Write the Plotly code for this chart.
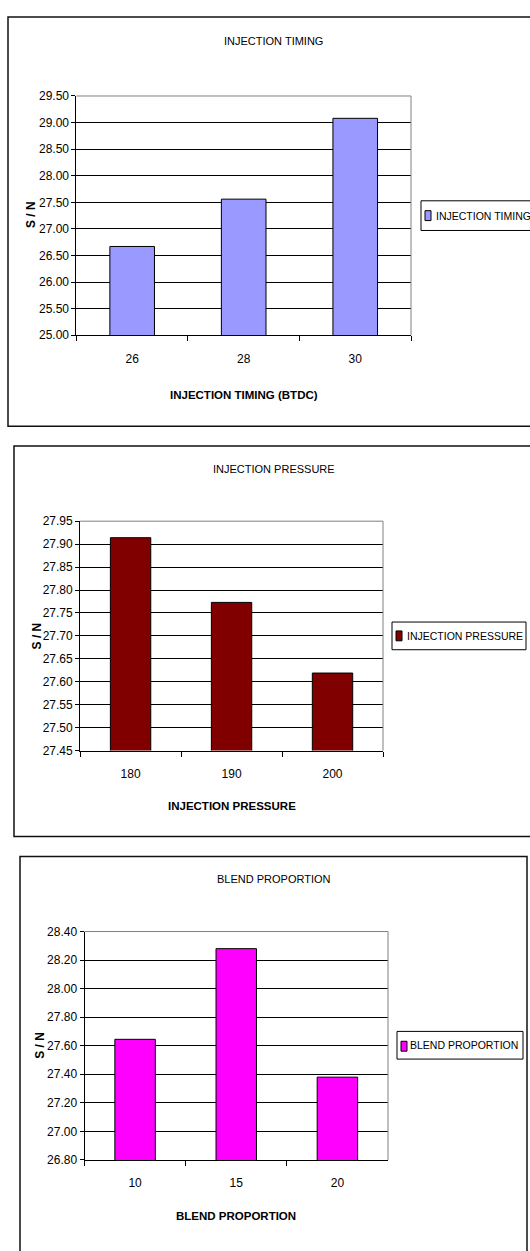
import plotly.graph_objects as go

W, H = 530, 1251
FONT = "Liberation Sans, Arial, Helvetica, sans-serif"

# ---- data -------------------------------------------------------------
timing_cats = ["26", "28", "30"]
timing_sn = [26.67, 27.56, 29.08]
timing_ticks = [25.00, 25.50, 26.00, 26.50, 27.00, 27.50, 28.00, 28.50, 29.00, 29.50]

pressure_cats = ["180", "190", "200"]
pressure_sn = [27.914, 27.773, 27.619]
pressure_ticks = [27.45, 27.50, 27.55, 27.60, 27.65, 27.70, 27.75, 27.80, 27.85, 27.90, 27.95]

blend_cats = ["10", "15", "20"]
blend_sn = [27.645, 28.28, 27.38]
blend_ticks = [26.80, 27.00, 27.20, 27.40, 27.60, 27.80, 28.00, 28.20, 28.40]


def px(x):
    return x / W


def py(y):
    return 1 - y / H


# panel geometry in pixels
panels = [
    dict(name="INJECTION TIMING", xtitle="INJECTION TIMING (BTDC)",
         cats=timing_cats, vals=timing_sn, ticks=timing_ticks, color="#9999FF",
         plot=(76.4, 411, 90, 332), frame=(8, 545, 10, 424), title_y=34,
         ytitle=(30.4, 210), xtitle_y=392,
         legend_box=(421, 545, 196, 226), swatch=(425, 431, 206, 216), text_x=434),
    dict(name="INJECTION PRESSURE", xtitle="INJECTION PRESSURE",
         cats=pressure_cats, vals=pressure_sn, ticks=pressure_ticks, color="#800000",
         plot=(80.1, 383, 520, 752), frame=(14, 545, 444, 839), title_y=467,
         ytitle=(36.5, 636), xtitle_y=808,
         legend_box=(392, 526, 622, 650), swatch=(396, 402, 631, 641), text_x=405),
    dict(name="BLEND PROPORTION", xtitle="BLEND PROPORTION",
         cats=blend_cats, vals=blend_sn, ticks=blend_ticks, color="#FF00FF",
         plot=(84.5, 388, 935, 1166), frame=(20, 527, 859, 1270), title_y=882,
         ytitle=(40.6, 1050), xtitle_y=1223,
         legend_box=(397, 523, 1036, 1064), swatch=(401, 407, 1046, 1056), text_x=408),
]

fig = go.Figure()
shapes, annotations = [], []
layout = {}

for i, p in enumerate(panels, start=1):
    sfx = "" if i == 1 else str(i)
    xa, ya = "x" + sfx, "y" + sfx
    x0, x1, y0, y1 = p["plot"]

    fig.add_trace(go.Bar(
        x=p["cats"], y=p["vals"], name=p["name"], xaxis=xa, yaxis=ya,
        width=0.4, marker=dict(color=p["color"], line=dict(color="#000000", width=1)),
        showlegend=False, hoverinfo="x+y",
    ))

    layout["xaxis" + sfx] = dict(
        domain=[px(x0), px(x1)], anchor=ya, type="category",
        range=[-0.5, 2.5], tickson="boundaries", ticks="outside", ticklen=5,
        tickcolor="#000000", showline=True, linecolor="#000000", linewidth=1,
        showgrid=False, fixedrange=True, ticklabelstandoff=12,
        tickfont=dict(family=FONT, size=12, color="#000000"),
    )
    layout["yaxis" + sfx] = dict(
        domain=[py(y1), py(y0)], anchor=xa,
        range=[p["ticks"][0], p["ticks"][-1]], tickvals=p["ticks"],
        tickformat=".2f", ticks="outside", ticklen=4, tickcolor="#000000",
        showline=True, linecolor="#000000", linewidth=1,
        showgrid=True, gridcolor="#000000", gridwidth=1, zeroline=False,
        fixedrange=True,
        tickfont=dict(family=FONT, size=12, color="#000000"),
    )

    # plot-area border (top and right edges in grey)
    shapes.append(dict(
        type="path", xref="paper", yref="paper", layer="above",
        path=f"M {px(x0)} {py(y0)} L {px(x1)} {py(y0)} L {px(x1)} {py(y1)}",
        line=dict(color="#808080", width=1),
    ))
    # chart frame
    fx0, fx1, fy0, fy1 = p["frame"]
    shapes.append(dict(
        type="rect", xref="paper", yref="paper", layer="below",
        x0=px(fx0), x1=px(fx1), y0=py(fy1), y1=py(fy0),
        line=dict(color="#111111", width=1.5), fillcolor="rgba(0,0,0,0)",
    ))
    # legend box and swatch
    lx0, lx1, ly0, ly1 = p["legend_box"]
    shapes.append(dict(
        type="rect", xref="paper", yref="paper", layer="above",
        x0=px(lx0), x1=px(lx1), y0=py(ly1), y1=py(ly0),
        line=dict(color="#000000", width=1), fillcolor="#FFFFFF",
    ))
    sx0, sx1, sy0, sy1 = p["swatch"]
    shapes.append(dict(
        type="rect", xref="paper", yref="paper", layer="above",
        x0=px(sx0), x1=px(sx1), y0=py(sy1), y1=py(sy0),
        line=dict(color="#000000", width=1), fillcolor=p["color"],
    ))

    annotations += [
        dict(text=p["name"], x=px(273.8), y=py(p["title_y"]), xref="paper", yref="paper",
             xanchor="center", yanchor="middle", showarrow=False,
             font=dict(family=FONT, size=11, color="#000000")),
        dict(text=f"<b>{p['xtitle']}</b>", x=px((x0 + x1) / 2), y=py(p["xtitle_y"]),
             xref="paper", yref="paper", xanchor="center", yanchor="middle",
             showarrow=False, font=dict(family=FONT, size=11.5, color="#000000")),
        dict(text="<b>S / N</b>", x=px(p["ytitle"][0]), y=py(p["ytitle"][1]),
             xref="paper", yref="paper", xanchor="center", yanchor="middle",
             textangle=-90, showarrow=False,
             font=dict(family=FONT, size=12, color="#000000")),
        dict(text=p["name"], x=px(p["text_x"]), y=py((ly0 + ly1) / 2),
             xref="paper", yref="paper", xanchor="left", yanchor="middle",
             showarrow=False, font=dict(family=FONT, size=10.5, color="#000000")),
    ]

fig.update_layout(
    width=W, height=H, margin=dict(l=0, r=0, t=0, b=0),
    paper_bgcolor="#FFFFFF", plot_bgcolor="#FFFFFF",
    showlegend=False, shapes=shapes, annotations=annotations,
    font=dict(family=FONT, size=12, color="#000000"),
    **layout,
)

fig.write_html("out.html", config={"displayModeBar": False})
